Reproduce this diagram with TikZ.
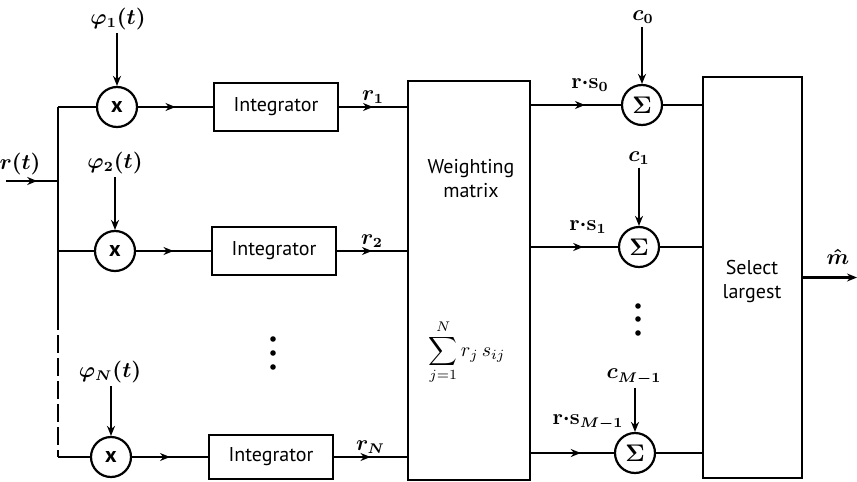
\documentclass[tikz,border=0pt]{standalone}
\usepackage{fontspec}
\usepackage{amsmath}
\setsansfont{PT Sans}
\usetikzlibrary{arrows.meta,decorations.markings}
\begin{document}
\begin{tikzpicture}[x=0.5pt,y=-0.5pt,
  line width=1.1pt,
  every node/.style={font=\sffamily\fontsize{10}{12}\selectfont},
  blk/.style={draw,line width=1.1pt,minimum width=62pt,minimum height=24pt,inner sep=0pt},
  bigblk/.style={draw,line width=1.1pt,inner sep=0pt},
  junc/.style={draw,circle,line width=1.1pt,minimum size=20pt,inner sep=0pt},
  lbl/.style={font=\fontsize{10.5}{12}\selectfont\boldmath,inner sep=1pt},
  midarrow/.style={postaction={decorate},decoration={markings,mark=at position #1 with {\arrow{Stealth[length=5pt,width=4pt]}}}},
  midarrow/.default=0.55,
  tipend/.style={-{Stealth[length=5pt,width=4pt]}}
]
\useasboundingbox (0,0) rectangle (857,482);

% multipliers
\node[junc] (m1) at (117,107) {\fontsize{11}{11}\selectfont\bfseries x};
\node[junc] (m2) at (115,251) {\fontsize{11}{11}\selectfont\bfseries x};
\node[junc] (m3) at (111,457) {\fontsize{11}{11}\selectfont\bfseries x};

% integrators
\node[blk] (i1) at (276,107) {Integrator};
\node[blk] (i2) at (274,251) {Integrator};
\node[blk,minimum height=22pt] (i3) at (271,457) {Integrator};

% weighting matrix
\node[bigblk,minimum width=61pt,minimum height=199.5pt] (wm) at (469,280.5) {};
\node[align=center] (wmt) at (471,179) {Weighting\\matrix};
\node (wmf) at (467,352) {$\displaystyle\sum_{j=1}^{N} r_j\, s_{ij}$};

% summers
\node[junc] (s0) at (642,105) {\fontsize{12}{12}\selectfont$\boldsymbol\Sigma$};
\node[junc] (s1) at (639,247) {\fontsize{12}{12}\selectfont$\boldsymbol\Sigma$};
\node[junc] (s2) at (635,453) {\fontsize{12}{12}\selectfont$\boldsymbol\Sigma$};

% select largest
\node[bigblk,minimum width=49.5pt,minimum height=200.5pt] (sel) at (752.5,277.5) {};
\node[align=center] (selt) at (752,281) {Select\\largest};

% input and left bus
\coordinate (in) at (6,181);
\coordinate (jin) at (58,181);
\coordinate (ja) at (58,107);
\coordinate (jb) at (58,251);
\coordinate (jd) at (58,312);
\coordinate (jc) at (58,457);
\node[lbl] (rt) at (20,164) {$r(t)$};
\draw[midarrow=0.6] (in) -- (jin);
\draw (ja) -- (jd);
\draw[dash pattern=on 9pt off 2.5pt] (jd) -- (jc);
\draw (ja) -- (m1);
\draw (jb) -- (m2);
\draw (jc) -- (m3);

% basis function inputs
\node[lbl] (p1) at (118,19) {$\varphi_1(t)$};
\node[lbl] (p2) at (115,163) {$\varphi_2(t)$};
\node[lbl] (p3) at (110,372) {$\varphi_N(t)$};
\draw[tipend] (m1 |- p1.south) -- (m1.north);
\draw[tipend] (m2 |- p2.south) -- (m2.north);
\draw[tipend] (m3 |- p3.south) -- (m3.north);

% multiplier -> integrator
\draw[midarrow=0.5] (m1) -- (i1);
\draw[midarrow=0.5] (m2) -- (i2);
\draw[midarrow=0.5] (m3) -- (i3);

% integrator -> weighting matrix
\draw[midarrow=0.5] (i1) -- node[lbl,above] (r1) {$r_1$} (i1 -| wm.west);
\draw[midarrow=0.5] (i2) -- node[lbl,above] (r2) {$r_2$} (i2 -| wm.west);
\draw[midarrow=0.5] (i3) -- node[lbl,above] (rN) {$r_N$} (i3 -| wm.west);

% weighting matrix -> summers
\draw[midarrow=0.6] (wm.east |- s0) -- (s0);
\draw[midarrow=0.6] (wm.east |- s1) -- (s1);
\draw[midarrow=0.6] (wm.east |- s2) -- (s2);
\node[lbl] (rs0) at (590,85) {$\mathbf r{\cdot}\mathbf s_0$};
\node[lbl] (rs1) at (588,227) {$\mathbf r{\cdot}\mathbf s_1$};
\node[lbl] (rs2) at (588,422) {$\mathbf r{\cdot}\mathbf s_{M-1}$};

% bias constants
\node[lbl] (c0) at (643,17) {$c_0$};
\node[lbl] (c1) at (639,158) {$c_1$};
\node[lbl] (c2) at (634,377) {$c_{M-1}$};
\draw[tipend] (s0 |- c0.south) -- (s0.north);
\draw[tipend] (s1 |- c1.south) -- (s1.north);
\draw[tipend] (s2 |- c2.south) -- (s2.north);

% summers -> select
\draw (s0) -- (s0 -| sel.west);
\draw (s1) -- (s1 -| sel.west);
\draw (s2) -- (s2 -| sel.west);

% output
\coordinate (out) at (857,277.5);
\draw[tipend] (sel) -- (out);
\node[lbl] (mh) at (838,257) {$\hat m$};

% dots
\fill (273,339) circle (1.4pt);
\fill (273,353) circle (1.4pt);
\fill (273,367) circle (1.4pt);
\fill (638,306) circle (1.4pt);
\fill (638,319) circle (1.4pt);
\fill (638,333) circle (1.4pt);
\end{tikzpicture}
\end{document}
